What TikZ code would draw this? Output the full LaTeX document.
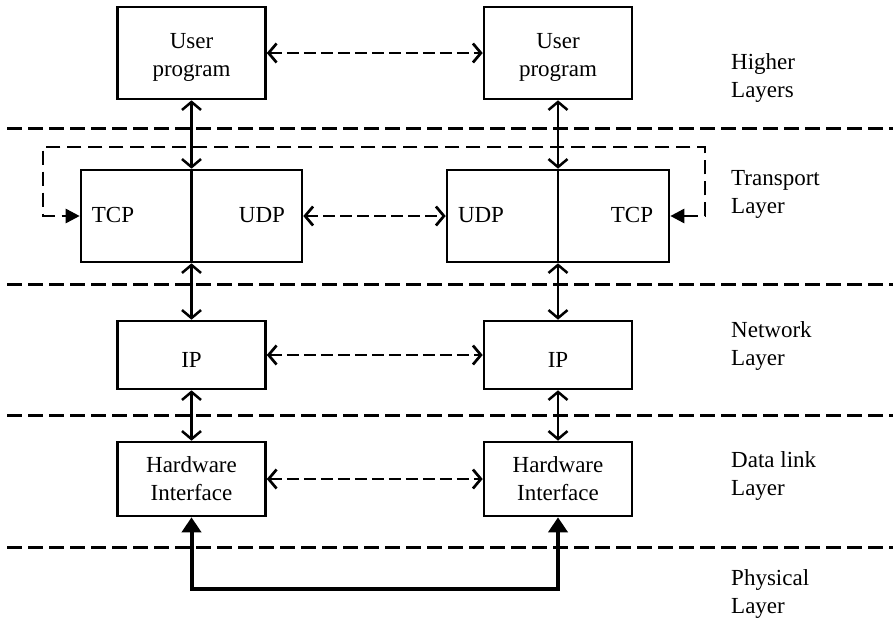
\documentclass[tikz,border=0pt]{standalone}
\usepackage{fontspec}
\setmainfont{Liberation Serif}
\usetikzlibrary{arrows.meta}
% lower a centred block of text without changing its bounding box
\newcommand\droptext[2]{\raisebox{-#1}[\height][\depth]{\begin{tabular}{@{}c@{}}#2\end{tabular}}}
\tikzset{
  box/.style={draw, line width=2.6pt, minimum width=148pt, inner sep=0pt, align=center},
  lbl/.style={inner sep=0pt, align=center},
  layertxt/.style={anchor=west, inner sep=0pt, align=left},
  layerline/.style={line width=3pt, dash pattern=on 15pt off 6pt},
  peer/.style={line width=2.7pt, dash pattern=on 12pt off 5pt,
    {Straight Barb[length=8pt,width=19pt]}-{Straight Barb[length=8pt,width=19pt]}},
  stack/.style={line width=2.5pt,
    {Straight Barb[length=8pt,width=19pt]}-{Straight Barb[length=8pt,width=19pt]}},
  loopline/.style={line width=2.7pt, dash pattern=on 14pt off 7pt,
    {Triangle[length=14pt,width=14pt]}-{Triangle[length=14pt,width=14pt]}},
  phys/.style={line width=4pt,
    {Triangle[length=15pt,width=19pt]}-{Triangle[length=15pt,width=19pt]}},
}
\begin{document}
\begin{tikzpicture}[x=1pt,y=-1pt]
\useasboundingbox (0,0) rectangle (893,619);
\fontsize{23}{28}\selectfont

% layer separators
\draw[layerline] (7,128) -- (893,128);
\draw[layerline] (7,284) -- (893,284);
\draw[layerline] (7,415) -- (893,415);
\draw[layerline] (7,547) -- (893,547);

% higher layers
\node[box, minimum height=92pt] (up1) at (191.5,53) {\droptext{4pt}{User\\program}};
\node[box, minimum height=92pt] (up2) at (558,53) {\droptext{4pt}{User\\program}};

% transport layer
\node[draw, line width=2.6pt, minimum width=221pt, minimum height=92pt, inner sep=0pt] (tr1) at (191.5,216) {};
\node[draw, line width=2.6pt, minimum width=222pt, minimum height=92pt, inner sep=0pt] (tr2) at (558,216) {};
\draw[line width=2.5pt] (tr1.north) -- (tr1.south);
\draw[line width=2.5pt] (tr2.north) -- (tr2.south);
\node[lbl] (tcp1) at (113,215) {TCP};
\node[lbl] (udp1) at (262,215) {UDP};
\node[lbl] (udp2) at (481,215) {UDP};
\node[lbl] (tcp2) at (632,215) {TCP};

% network layer
\node[box, minimum height=68pt] (ip1) at (191.5,355) {\droptext{7pt}{IP}};
\node[box, minimum height=68pt] (ip2) at (558,355) {\droptext{7pt}{IP}};

% data link layer
\node[box, minimum height=74pt] (hw1) at (191.5,479) {Hardware\\Interface};
\node[box, minimum height=74pt] (hw2) at (558,479) {Hardware\\Interface};

% vertical stack connections
\draw[stack] (up1.south) -- (tr1.north);
\draw[stack] (tr1.south) -- (ip1.north);
\draw[stack] (ip1.south) -- (hw1.north);
\draw[stack] (up2.south) -- (tr2.north);
\draw[stack] (tr2.south) -- (ip2.north);
\draw[stack] (ip2.south) -- (hw2.north);

% peer-to-peer links
\draw[peer] (up1.east) -- (up2.west);
\draw[peer] (tr1.east) -- (tr2.west);
\draw[peer] (ip1.east) -- (ip2.west);
\draw[peer] (hw1.east) -- (hw2.west);

% TCP to TCP loop
\coordinate (lpR) at (705,147);
\coordinate (lpL) at (43,147);
\draw[loopline] (tr2.east) -| (lpR) -- (lpL) |- (tr1.west);

% physical medium
\coordinate (pbL) at (191.5,589);
\coordinate (pbR) at (558,589);
\draw[phys] (hw1.south) -- (pbL) -- (pbR) -- (hw2.south);

% layer names
\node[layertxt] (l1) at (731,78) {Higher\\Layers};
\node[layertxt] (l2) at (731,194) {Transport\\Layer};
\node[layertxt] (l3) at (731,346) {Network\\Layer};
\node[layertxt] (l4) at (731,476) {Data link\\Layer};
\node[layertxt] (l5) at (731,594) {Physical\\Layer};
\end{tikzpicture}
\end{document}
